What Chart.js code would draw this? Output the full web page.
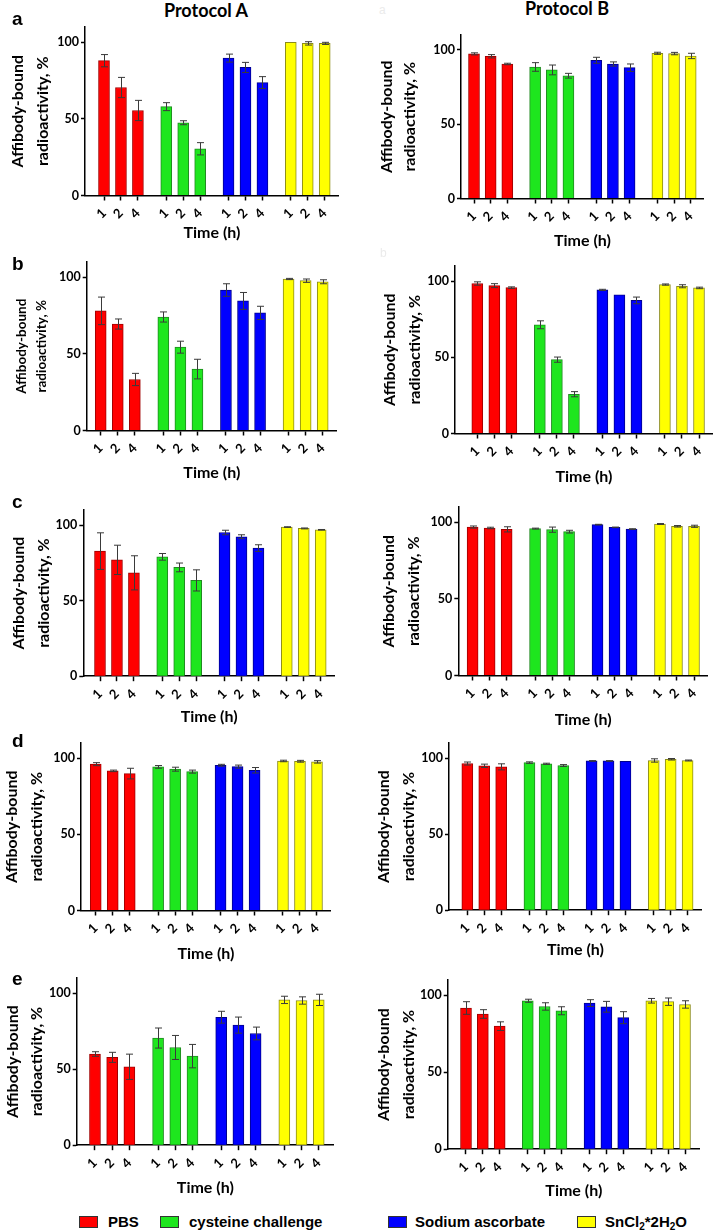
<!DOCTYPE html>
<html><head><meta charset="utf-8">
<script src="https://cdn.jsdelivr.net/npm/chart.js@4.4.0/dist/chart.umd.min.js"></script>
<style>
html,body{margin:0;padding:0;background:#fff}
body{width:715px;height:1231px;position:relative;overflow:hidden}
canvas{position:absolute}
.t{position:absolute;white-space:nowrap;line-height:1;color:#000}
.lab{font-family:'Lato',sans-serif;font-weight:bold;font-size:18px}
.row{font-family:'Liberation Sans',Arial,sans-serif;font-weight:bold;font-size:19px}
.leg{font-family:'Liberation Sans',Arial,sans-serif;font-weight:bold;font-size:15px}
.box{position:absolute;width:17px;height:10px;border:1px solid #333}
.wm{font-family:'Liberation Sans',Arial,sans-serif;font-size:12px;color:#ebebeb}
</style></head><body>
<script>
// ---------- data ----------
const times = ['1', '2', '4'];
const treatments = ['PBS', 'cysteine challenge', 'Sodium ascorbate', 'SnCl2*2H2O'];
const protocols = ['Protocol A', 'Protocol B'];
const rowLetters = ['a', 'b', 'c', 'd', 'e'];
const yTicks = [0, 50, 100];

// order: PBS 1,2,4 | cysteine 1,2,4 | ascorbate 1,2,4 | SnCl2 1,2,4
const a_A_mean = [88, 70.5, 55.5, 58, 47.5, 30.5, 89.7, 83.6, 73.7, 100, 99.3, 99.3];
const a_A_err  = [4, 6.6, 6.6, 2.6, 1.3, 4, 2.6, 3.3, 3.9, 0, 1.1, 0.7];
const a_B_mean = [97.3, 95.7, 90.5, 88.5, 86.5, 82.6, 93, 90.5, 88, 97.7, 97.5, 95.9];
const a_B_err  = [0.7, 1.1, 0.5, 2.9, 3.3, 1.6, 2, 1.4, 2.5, 0.7, 0.8, 1.8];
const b_A_mean = [78.1, 69.5, 33.3, 74.1, 54.4, 40.1, 91.7, 84.6, 76.8, 98.9, 97.8, 97.1];
const b_A_err  = [9, 3.3, 4, 3.3, 3.9, 6.4, 4.1, 5.5, 4.3, 0.4, 1.1, 1.3];
const b_B_mean = [98.5, 97.1, 95.8, 71.4, 48.5, 25.8, 94.3, 91, 87.4, 97.8, 96.7, 95.6];
const b_B_err  = [1.1, 1.3, 0.5, 2.6, 1.7, 1.7, 0.4, 0, 2.2, 0.4, 1, 0.5];
const c_A_mean = [82.8, 77, 68.4, 79, 72, 63.4, 95.1, 92.3, 84.8, 98.7, 97.8, 96.9];
const c_A_err  = [12.1, 9.7, 11.3, 2.2, 2.9, 7, 1.5, 1.3, 2.2, 0.2, 0.3, 0.2];
const c_B_mean = [96.9, 96.3, 95.4, 95.9, 95.2, 93.9, 98.5, 96.7, 95.6, 98.9, 97.4, 97.4];
const c_B_err  = [0.7, 0.5, 1.7, 0.3, 1.7, 0.9, 0.2, 0.2, 0.2, 0.3, 0.5, 0.7];
const d_A_mean = [96.1, 91.7, 89.9, 94.3, 92.8, 91.2, 95.4, 94.5, 92.1, 98.2, 98, 97.6];
const d_A_err  = [1, 0.5, 3.5, 0.9, 1.3, 1, 0.6, 1, 1.8, 0.5, 0.6, 0.8];
const d_B_mean = [96.5, 95, 94.3, 97.1, 96.3, 95.2, 98.2, 98.2, 98, 98.5, 99.3, 98.5];
const d_B_err  = [1, 1.1, 2, 0.5, 0.4, 0.6, 0.2, 0.2, 0, 1.1, 0.5, 0.3];
const e_A_mean = [60, 57.8, 51.6, 70.5, 64.3, 58.6, 84.2, 79, 73.5, 95.6, 95.2, 95.6];
const e_A_err  = [1.5, 3.3, 8.3, 6.6, 7.9, 7.7, 3.9, 5.3, 4.2, 2.4, 2.4, 3.7];
const e_B_mean = [91.8, 87.9, 80, 96.5, 92.8, 90, 95, 92.6, 85.5, 96.5, 95.9, 94.1];
const e_B_err  = [4.1, 2.8, 2.8, 1, 2.4, 2.6, 2.2, 3.5, 3.9, 1.5, 2.4, 2.4];

// ---------- styles ----------
const fills = ['#ff0000', '#1ee61e', '#0000ff', '#ffff00'];
const edges = ['#a00000', '#218a21', '#00008c', '#8a8a1a'];

// ---------- layout (pixel geometry of each panel) ----------
const PANELS = [
  {mean:a_A_mean, err:a_A_err, col:0, ax:85,    top:27,    bot:195,    right:339,   first:19,   last:14.3, t1:18.3,  pitch:25,   ts:16,   timeY:232},
  {mean:a_B_mean, err:a_B_err, col:1, ax:461,   top:35,    bot:198,    right:704,   first:13,   last:13.3, t1:386.5, pitch:23.5, ts:16,   timeY:240},
  {mean:b_A_mean, err:b_A_err, col:0, ax:86.7,  top:262,   bot:430,    right:337,   first:14,   last:14.3, t1:21.5,  pitch:20.5, ts:13.5, timeY:472},
  {mean:b_B_mean, err:b_B_err, col:1, ax:455,   top:266,   bot:433,    right:713,   first:22.3, last:14,   t1:390,   pitch:25,   ts:16,   timeY:476},
  {mean:c_A_mean, err:c_A_err, col:0, ax:83.3,  top:510,   bot:675.7,  right:335,   first:16.7, last:14.3, t1:18.5,  pitch:25,   ts:16,   timeY:716},
  {mean:c_B_mean, err:c_B_err, col:1, ax:458.3, top:506.7, bot:675,    right:708,   first:14.3, last:14,   t1:388.5, pitch:25,   ts:16,   timeY:719},
  {mean:d_A_mean, err:d_A_err, col:0, ax:81,    top:743.3, bot:911,    right:330.7, first:14.7, last:14,   t1:11.7,  pitch:25,   ts:16,   timeY:954},
  {mean:d_B_mean, err:d_B_err, col:1, ax:449,   top:742.7, bot:909.7,  right:701.7, first:18.3, last:14.4, t1:383.5, pitch:25,   ts:16,   timeY:949},
  {mean:e_A_mean, err:e_A_err, col:0, ax:76.7,  top:978.3, bot:1145.7, right:334.3, first:18.3, last:15.3, t1:13.3,  pitch:23.4, ts:16,   timeY:1188},
  {mean:e_B_mean, err:e_B_err, col:1, ax:447.7, top:980,   bot:1148.7, right:700,   first:18.3, last:15,   t1:383.5, pitch:25,   ts:16,   timeY:1190}
];
const GROUP_STEP = 3.67;

const errorBars = {
  id: 'errorBars',
  afterDatasetsDraw(chart) {
    const ctx = chart.ctx, ys = chart.scales.y;
    chart.data.datasets.forEach((ds, di) => {
      const meta = chart.getDatasetMeta(di);
      meta.data.forEach((bar, i) => {
        const e = ds.errors[i];
        if (!e) return;
        const v = ds.data[i].y;
        const x = Math.round(bar.x) + 0.5;
        const yt = ys.getPixelForValue(v + e), yb = ys.getPixelForValue(v - e);
        ctx.save();
        ctx.strokeStyle = '#3a3a3a';
        ctx.lineWidth = 1;
        ctx.beginPath();
        ctx.moveTo(x, yt); ctx.lineTo(x, yb);
        ctx.moveTo(x - 3.5, yt); ctx.lineTo(x + 3.5, yt);
        ctx.moveTo(x - 3.5, yb); ctx.lineTo(x + 3.5, yb);
        ctx.stroke();
        ctx.restore();
      });
    });
  }
};

function zeroPad(s) { s.paddingLeft = 0; s.paddingRight = 0; s.paddingTop = 0; s.paddingBottom = 0; }

function build() {
  const body = document.body;
  PANELS.forEach((p) => {
    const colLeft = p.col === 0 ? -6 : 354;
    const padTop = 4;
    const xTitleLH = 19;
    const XH = p.timeY - p.bot + xTitleLH / 2;
    const W = Math.round(p.right - colLeft);
    const H = Math.round(padTop + (p.bot - p.top) + XH);
    const YW = p.ax - colLeft;
    const plotW = p.right - p.ax;
    const lastPos = 3 * GROUP_STEP + 2;
    const slot = (plotW - p.first - p.last) / lastPos;
    const xmin = -p.first / slot, xmax = lastPos + p.last / slot;
    const positions = [];
    for (let g = 0; g < 4; g++) for (let i = 0; i < 3; i++) positions.push(g * GROUP_STEP + i);

    const cv = document.createElement('canvas');
    cv.width = W; cv.height = H;
    cv.style.left = colLeft + 'px';
    cv.style.top = (p.top - padTop) + 'px';
    cv.style.width = W + 'px'; cv.style.height = H + 'px';
    body.appendChild(cv);

    const datasets = treatments.map((name, g) => ({
      label: name,
      data: times.map((t, i) => ({x: g * GROUP_STEP + i, y: p.mean[g * 3 + i]})),
      errors: times.map((t, i) => p.err[g * 3 + i]),
      backgroundColor: fills[g],
      borderColor: edges[g],
      borderWidth: 1,
      borderSkipped: 'bottom',
      barThickness: 11,
      grouped: false
    }));

    new Chart(cv, {
      type: 'bar',
      data: {datasets},
      options: {
        responsive: false, animation: false, devicePixelRatio: 1,
        layout: {padding: {top: padTop, left: 0, right: 0, bottom: 0}},
        plugins: {legend: {display: false}, tooltip: {enabled: false}},
        scales: {
          x: {
            type: 'linear', min: xmin, max: xmax, offset: false,
            afterBuildTicks(s) { s.ticks = positions.map(v => ({value: v})); },
            afterFit(s) { s.height = XH; zeroPad(s); },
            grid: {display: true, drawOnChartArea: false, offset: false, tickLength: 5, tickColor: '#000', tickWidth: 1.5},
            border: {display: true, color: '#000', width: 1.5},
            ticks: {autoSkip: false, minRotation: 45, maxRotation: 45, padding: 5, color: '#000',
              font: {family: 'Lato', weight: 'bold', size: 13},
              callback: (v, i) => times[i % 3]},
            title: {display: true, text: 'Time (h)', color: '#000', padding: 0,
              font: {family: 'Lato', weight: 'bold', size: 16, lineHeight: 1.2}}
          },
          y: {
            min: 0, max: 110,
            afterBuildTicks(s) { s.ticks = yTicks.map(v => ({value: v})); },
            afterFit(s) { s.width = YW; zeroPad(s); },
            grid: {display: true, drawOnChartArea: false, tickLength: 4, tickColor: '#000', tickWidth: 1.5},
            border: {display: true, color: '#000', width: 1.5},
            ticks: {padding: 2, color: '#000', font: {family: 'Lato', weight: 'bold', size: 12.5}},
            title: {display: true, text: ['Affibody-bound', 'radioactivity, %'], color: '#000',
              padding: {top: p.t1 - p.pitch / 2 - colLeft, bottom: 0},
              font: {family: 'Lato', weight: 'bold', size: p.ts, lineHeight: p.pitch / p.ts}}
          }
        }
      },
      plugins: [errorBars]
    });
  });

  // headings
  const addText = (cls, txt, left, top, center) => {
    const d = document.createElement('div');
    d.className = 't ' + cls;
    d.innerHTML = txt;
    d.style.left = left + 'px'; d.style.top = top + 'px';
    if (center) d.style.transform = 'translateX(-50%)';
    body.appendChild(d);
    return d;
  };
  addText('lab', protocols[0], 206, 1, true);
  addText('lab', protocols[1], 567, -1, true);
  const letterBase = [25, 270, 508, 747, 985];
  rowLetters.forEach((l, i) => addText('row', l, 12, letterBase[i] - 16.5, false));
  addText('wm', 'a', 379, 4, false);
  addText('wm', 'b', 380, 247, false);

  // legend
  const legBoxX = [79, 160, 388, 577];
  const legTextX = [108, 189, 415, 605];
  const legLabels = [treatments[0], treatments[1], treatments[2], 'SnCl<sub>2</sub>*2H<sub>2</sub>O'];
  treatments.forEach((name, g) => {
    const b = document.createElement('div');
    b.className = 'box';
    b.style.left = legBoxX[g] + 'px'; b.style.top = '1216px';
    b.style.background = fills[g];
    body.appendChild(b);
    const t = addText('leg', legLabels[g], legTextX[g], 1214, false);
    t.querySelectorAll('sub').forEach(s => { s.style.fontSize = '10px'; s.style.verticalAlign = '-3px'; s.style.lineHeight = '0'; });
  });
}

const ready = (document.fonts && document.fonts.load)
  ? Promise.all([document.fonts.load('bold 16px Lato'), document.fonts.load('bold 15px "Liberation Sans"')]).catch(() => {})
  : Promise.resolve();
Promise.race([ready, new Promise(r => setTimeout(r, 800))]).then(build);
</script>
</body></html>
